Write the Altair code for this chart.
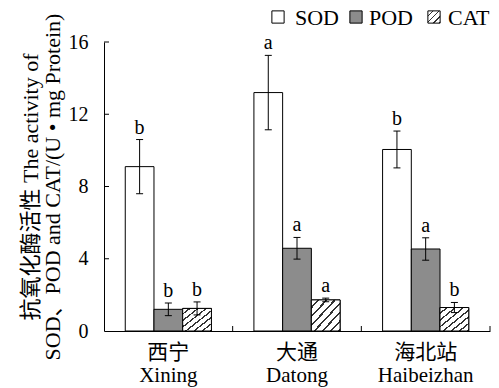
import altair as alt
import pandas as pd

sites = ["西宁\nXining", "大通\nDatong", "海北站\nHaibeizhan"]
enzymes = ["SOD", "POD", "CAT"]
sod_mean = [9.1, 13.2, 10.05]
sod_err = [1.5, 2.06, 1.02]
pod_mean = [1.2, 4.58, 4.54]
pod_err = [0.35, 0.6, 0.62]
cat_mean = [1.25, 1.72, 1.3]
cat_err = [0.36, 0.1, 0.28]
sod_letter = ["b", "a", "b"]
pod_letter = ["b", "a", "a"]
cat_letter = ["b", "a", "b"]
y_tick_values = [0, 4, 8, 12, 16]

rows = []
for enz, means, errs, lets in [("SOD", sod_mean, sod_err, sod_letter),
                               ("POD", pod_mean, pod_err, pod_letter),
                               ("CAT", cat_mean, cat_err, cat_letter)]:
    for s, m, e, l in zip(sites, means, errs, lets):
        rows.append({"site": s, "enzyme": enz, "mean": m, "lo": m - e, "hi": m + e, "letter": l})
df = pd.DataFrame(rows)
ticks_df = pd.DataFrame({"t": y_tick_values[1:]})
sites_df = pd.DataFrame({"site": sites})
legend_df = pd.DataFrame({"enzyme": enzymes})

FONT = "Liberation Serif, Times New Roman, Noto Sans CJK SC"
W, H = 386, 289
FILLS = ["white", "#8c8c8c", "white"]


def hatch_fill(n, frac):
    stops = []
    for k in range(n):
        a, b, c = k / n, (k + frac) / n, (k + 1) / n
        stops += [{"offset": a, "color": "white"}, {"offset": b, "color": "white"},
                  {"offset": b, "color": "#333333"}, {"offset": c, "color": "#333333"}]
    return {"gradient": "linear", "x1": 0, "y1": 0, "x2": 1, "y2": 1, "stops": stops}


hatch = hatch_fill(7, 0.74)
hatch_small = hatch_fill(4, 0.75)

x_enc = alt.X("site:N", sort=sites, scale=alt.Scale(paddingInner=0, paddingOuter=0),
              axis=alt.Axis(title=None, labelExpr="split(datum.label, '\\n')",
                            labelFont=FONT, labelFontSize=21, labelColor="black",
                            labelLineHeight=23, labelPadding=10, ticks=False,
                            labelAngle=0, domainColor="black"))
xoff = alt.XOffset("enzyme:N", sort=enzymes, scale=alt.Scale(paddingInner=0, paddingOuter=0.74))
y_enc = alt.Y("mean:Q", scale=alt.Scale(domain=[0, 16], nice=False),
              axis=alt.Axis(values=y_tick_values, grid=False, tickSize=0, labelPadding=16,
                            labelFont=FONT, labelFontSize=20, labelColor="black",
                            domainColor="black",
                            title=["抗氧化酶活性 The activity of", "SOD、POD and CAT/(U • mg Protein)"],
                            titleFont=FONT, titleFontSize=22, titleFontWeight="normal",
                            titleColor="black", titleLineHeight=22, titlePadding=4))

fill_scale = alt.Scale(domain=enzymes, range=FILLS)
base = alt.Chart(df)

bars = base.mark_bar(stroke="black", strokeWidth=1).encode(
    x=x_enc, xOffset=xoff, y=y_enc,
    fill=alt.Fill("enzyme:N", sort=enzymes, scale=fill_scale, legend=None),
)

cat_bars = base.transform_filter("datum.enzyme === 'CAT'").mark_bar(
    fill=hatch, stroke="black", strokeWidth=1).encode(x=alt.X("site:N", sort=sites), xOffset=xoff, y="mean:Q")

err = base.mark_rule(color="black", strokeWidth=1).encode(
    x=alt.X("site:N", sort=sites), xOffset=xoff, y="lo:Q", y2="hi:Q")
cap_hi = base.mark_tick(color="black", thickness=1, size=7, opacity=1).encode(
    x=alt.X("site:N", sort=sites), xOffset=xoff, y="hi:Q")
cap_lo = base.mark_tick(color="black", thickness=1, size=7, opacity=1).encode(
    x=alt.X("site:N", sort=sites), xOffset=xoff, y="lo:Q")

letters = base.mark_text(font=FONT, fontSize=20, color="black", baseline="alphabetic", dy=-6).encode(
    x=alt.X("site:N", sort=sites), xOffset=xoff, y="hi:Q", text="letter:N")

ytick = alt.Chart(ticks_df).mark_rule(color="black").encode(
    y="t:Q", x=alt.value(0), x2=alt.value(5))
xtick = alt.Chart(sites_df).mark_rule(color="black").encode(
    x=alt.X("site:N", sort=sites, bandPosition=1), y=alt.value(H), y2=alt.value(H - 5))

# legend (drawn as decoration above the plot area)
LEG_Y = -25
LEG_SYM_X = [174, 252, 330]
LEG_TXT_X = [191, 265, 344]
LEG_FILLS = ["white", "#8c8c8c", hatch_small]
legend_layers = []
for enz, sx, tx, lf in zip(enzymes, LEG_SYM_X, LEG_TXT_X, LEG_FILLS):
    src = alt.Chart(legend_df).transform_filter(alt.datum.enzyme == enz)
    legend_layers.append(src.mark_point(shape="square", filled=True, fill=lf, stroke="black",
                                        strokeWidth=1, size=150, opacity=1).encode(
        x=alt.value(sx), y=alt.value(LEG_Y)))
    legend_layers.append(src.mark_text(font=FONT, fontSize=22, color="black", align="left",
                                       baseline="middle").encode(
        x=alt.value(tx), y=alt.value(LEG_Y + 1), text="enzyme:N"))

chart = alt.layer(bars, cat_bars, err, cap_hi, cap_lo, letters, ytick, xtick, *legend_layers).properties(
    width=W, height=H,
    autosize=alt.AutoSizeParams(type="none"),
    padding={"left": 104, "top": 42, "right": 9, "bottom": 57},
).configure_view(stroke=None).configure_axis(domainWidth=1)

chart.save("out.html", embed_options={"renderer": "svg", "actions": False})
